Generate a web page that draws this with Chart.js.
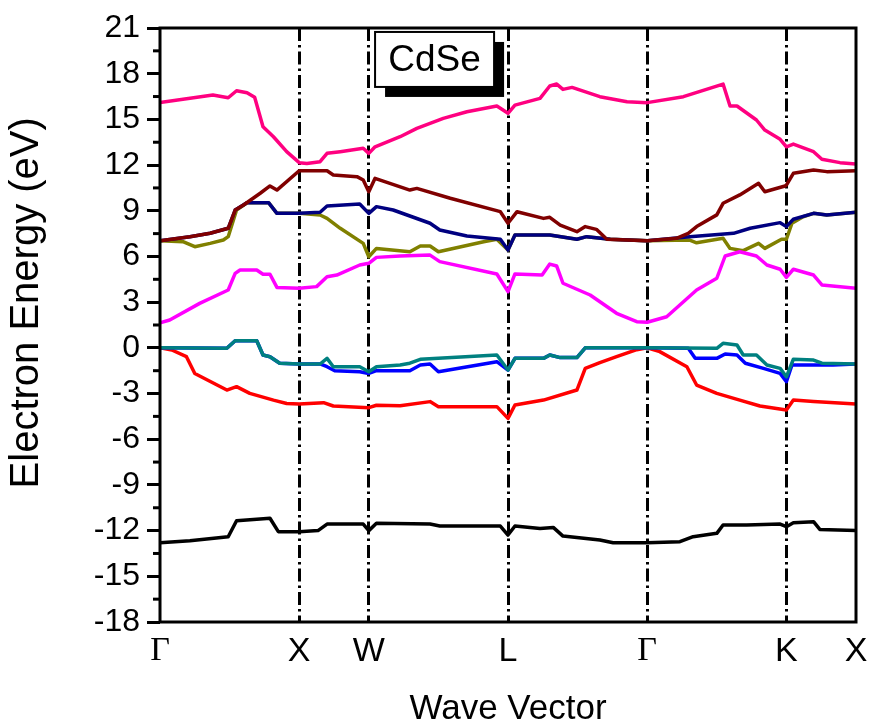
<!DOCTYPE html>
<html>
<head>
<meta charset="utf-8">
<title>CdSe band structure</title>
<script src="https://cdn.jsdelivr.net/npm/chart.js@4.4.0/dist/chart.umd.min.js"></script>
<style>
  html, body { margin: 0; padding: 0; background: #fff; }
  #wrap { width: 870px; height: 720px; }
</style>
</head>
<body>
<div id="wrap"><canvas id="bandChart"></canvas></div>
<script>
// high-symmetry points along the path (equal-ish segment units) and their labels
const kPoints = [0, 2, 3, 5, 7, 9, 10];
const kLabels = ['Γ', 'X', 'W', 'L', 'Γ', 'K', 'X'];

const energyMin = -18;
const energyMax = 21;
const energyStep = 1.5;   // major labels every 3 eV, minor ticks in between

const compound = 'CdSe';

// bands as [k, E(eV)]
const bandLow = [[0,-12.8],[0.43,-12.66],[0.98,-12.4],[1.10,-11.35],[1.39,-11.26],[1.58,-11.19],[1.70,-12.07],[2.0,-12.07],[2.27,-12.0],[2.40,-11.57],[2.92,-11.57],[3.0,-12.0],[3.11,-11.52],[3.88,-11.57],[4.02,-11.7],[4.89,-11.7],[5.0,-12.29],[5.10,-11.7],[5.46,-11.86],[5.65,-11.79],[5.79,-12.36],[6.32,-12.62],[6.51,-12.8],[7.0,-12.8],[7.47,-12.73],[7.66,-12.4],[8.0,-12.18],[8.09,-11.63],[8.43,-11.63],[8.91,-11.57],[9.0,-11.74],[9.10,-11.48],[9.39,-11.41],[9.48,-11.92],[10,-12.0]];

const bandV1 = [[0,0],[0.17,-0.14],[0.38,-0.58],[0.50,-1.68],[0.96,-2.77],[1.10,-2.55],[1.29,-2.99],[1.63,-3.43],[1.82,-3.65],[2.0,-3.69],[2.35,-3.6],[2.49,-3.82],[3.0,-3.93],[3.11,-3.77],[3.45,-3.8],[3.88,-3.53],[4.0,-3.86],[4.84,-3.86],[5.0,-4.63],[5.10,-3.75],[5.51,-3.43],[5.99,-2.77],[6.11,-1.35],[6.32,-0.97],[6.56,-0.58],[6.85,-0.12],[7.0,0],[7.18,-0.25],[7.57,-1.24],[7.71,-2.44],[8.0,-2.99],[8.33,-3.43],[8.62,-3.82],[9.0,-4.08],[9.10,-3.43],[9.39,-3.53],[10,-3.69]];

const bandV2 = [[0,0],[0.96,-0.03],[1.08,0.47],[1.39,0.47],[1.48,-0.47],[1.58,-0.58],[1.72,-1.01],[2.0,-1.06],[2.30,-1.06],[2.40,-1.24],[2.51,-1.5],[2.87,-1.57],[3.0,-1.68],[3.11,-1.5],[3.59,-1.5],[3.74,-1.13],[3.88,-1.06],[4.0,-1.57],[4.84,-0.91],[5.0,-1.46],[5.10,-0.69],[5.51,-0.69],[5.60,-0.47],[5.75,-0.64],[5.99,-0.64],[6.11,0],[7.0,0],[7.59,-0.03],[7.69,-0.69],[8.0,-0.69],[8.12,-0.4],[8.29,-0.47],[8.41,-1.01],[8.67,-1.35],[8.91,-1.68],[9.0,-2.22],[9.08,-1.13],[9.67,-1.13],[10,-1.06]];

const bandV3 = [[0,0],[0.96,-0.03],[1.08,0.47],[1.39,0.47],[1.48,-0.47],[1.58,-0.58],[1.72,-1.01],[2.0,-1.06],[2.30,-1.06],[2.40,-0.69],[2.49,-1.24],[2.87,-1.24],[3.0,-1.57],[3.11,-1.24],[3.45,-1.13],[3.59,-1.01],[3.74,-0.75],[4.84,-0.47],[5.0,-1.46],[5.10,-0.69],[5.51,-0.69],[5.60,-0.47],[5.75,-0.64],[5.99,-0.64],[6.11,0],[7.0,0],[8.0,-0.03],[8.09,0.3],[8.29,0.19],[8.38,-0.47],[8.57,-0.47],[8.72,-1.13],[8.91,-1.35],[9.0,-1.9],[9.10,-0.75],[9.39,-0.8],[9.51,-1.01],[10,-1.06]];

const bandC1 = [[0,1.65],[0.14,1.83],[0.57,2.92],[0.98,3.8],[1.08,4.89],[1.15,5.11],[1.39,5.11],[1.48,4.83],[1.58,4.83],[1.68,3.97],[2.0,3.91],[2.25,4.02],[2.40,4.67],[2.54,4.78],[2.87,5.44],[3.0,5.55],[3.11,5.94],[3.45,6.03],[3.88,6.09],[4.02,5.66],[4.84,4.85],[5.0,3.69],[5.10,4.85],[5.49,4.78],[5.60,5.5],[5.70,5.37],[5.79,4.24],[6.18,3.47],[6.56,2.27],[6.85,1.72],[7.0,1.68],[7.28,2.04],[7.71,3.8],[8.0,4.57],[8.12,6.03],[8.33,6.31],[8.57,6.03],[8.72,5.44],[8.91,5.16],[9.0,4.63],[9.10,5.16],[9.39,4.78],[9.51,4.13],[10,3.91]];

const bandC2 = [[0,7.03],[0.33,6.97],[0.50,6.64],[0.72,6.86],[0.91,7.08],[0.98,7.3],[1.10,9.05],[1.25,9.53],[1.56,9.53],[1.68,8.83],[2.0,8.83],[2.30,8.72],[2.40,8.5],[2.59,7.85],[2.92,6.86],[3.0,5.98],[3.11,6.53],[3.59,6.31],[3.74,6.69],[3.88,6.69],[4.0,6.31],[4.65,6.97],[4.84,7.13],[5.0,6.42],[5.10,7.41],[5.60,7.41],[5.99,7.13],[6.13,7.3],[6.47,7.13],[7.0,7.03],[7.61,7.08],[7.71,6.9],[8.09,7.19],[8.19,6.53],[8.38,6.38],[8.60,6.86],[8.69,6.53],[8.93,7.13],[9.0,7.13],[9.08,8.18],[9.24,8.61],[9.39,8.83],[9.58,8.72],[10,8.9]];

const bandC3 = [[0,7.03],[0.43,7.3],[0.72,7.52],[0.98,7.85],[1.08,9.05],[1.25,9.53],[1.56,9.53],[1.68,8.83],[2.0,8.83],[2.30,8.9],[2.40,9.31],[2.87,9.44],[3.0,8.83],[3.11,9.27],[3.35,9.05],[3.88,8.18],[4.02,7.74],[4.41,7.34],[4.89,7.13],[5.0,6.42],[5.10,7.41],[5.60,7.41],[5.99,7.13],[6.13,7.3],[6.47,7.13],[7.0,7.03],[7.61,7.3],[8.24,7.52],[8.48,7.85],[8.91,8.22],[9.0,7.96],[9.10,8.44],[9.39,8.83],[9.58,8.72],[10,8.9]];

const bandC4 = [[0,7.03],[0.43,7.3],[0.72,7.52],[0.98,7.85],[1.08,9.05],[1.20,9.38],[1.44,10.15],[1.58,10.63],[1.68,10.36],[2.0,11.63],[2.40,11.63],[2.49,11.35],[2.83,11.24],[2.92,11.02],[3.0,10.25],[3.09,11.13],[3.59,10.36],[3.69,10.47],[4.17,9.82],[4.89,8.94],[5.0,8.18],[5.13,8.94],[5.51,8.5],[5.60,8.57],[5.75,8.06],[5.99,7.63],[6.11,7.96],[6.27,7.78],[6.42,7.13],[7.0,7.03],[7.42,7.19],[7.59,7.52],[7.71,7.96],[8.0,8.73],[8.09,9.49],[8.33,10.04],[8.60,10.8],[8.69,10.25],[8.98,10.63],[9.0,10.69],[9.10,11.46],[9.39,11.68],[9.58,11.57],[10,11.63]];

const bandC5 = [[0,16.1],[0.76,16.6],[0.98,16.42],[1.10,16.88],[1.25,16.75],[1.36,16.45],[1.48,14.52],[1.63,13.86],[1.82,12.88],[2.0,12.16],[2.11,12.1],[2.30,12.22],[2.40,12.77],[2.59,12.88],[2.92,13.1],[3.0,12.77],[3.09,13.2],[3.45,13.86],[3.69,14.41],[4.07,15.07],[4.41,15.5],[4.84,15.88],[5.0,15.4],[5.10,15.94],[5.46,16.38],[5.60,17.19],[5.70,17.32],[5.79,16.97],[5.92,17.1],[6.32,16.49],[6.71,16.16],[7.0,16.1],[7.52,16.49],[8.09,17.32],[8.19,15.88],[8.29,15.88],[8.57,14.96],[8.69,14.3],[8.91,13.69],[9.0,13.2],[9.10,13.38],[9.39,12.88],[9.51,12.38],[9.77,12.16],[10,12.07]];

// first entry ends up on top
const bands = [bandV3, bandV2, bandV1, bandLow, bandC1, bandC4, bandC3, bandC2, bandC5];
const bandColors = ['#008080', '#0000ff', '#ff0000', '#000000', '#ff00ff', '#800000', '#000080', '#808000', '#ff0080'];

const sansFont = 'Arial, "Liberation Sans", sans-serif';
const serifFont = '"Times New Roman", "Liberation Serif", serif';

Chart.defaults.font.family = sansFont;
Chart.defaults.color = '#000';

// frame, minor ticks and the compound label box
const framePlugin = {
    id: 'frame',
    afterDatasetsDraw(chart) {
        const { ctx, chartArea: a, scales: { x, y } } = chart;
        ctx.save();
        ctx.strokeStyle = '#000';
        ctx.lineWidth = 3;
        ctx.strokeRect(a.left, a.top, a.right - a.left, a.bottom - a.top);

        y.ticks.forEach(t => {
            if (t.value % 3 !== 0) {
                const py = y.getPixelForValue(t.value);
                ctx.beginPath();
                ctx.moveTo(a.left - 7, py);
                ctx.lineTo(a.left, py);
                ctx.stroke();
            }
        });

        // label box with drop shadow
        const bx0 = x.getPixelForValue(3.09), bx1 = x.getPixelForValue(4.80);
        const by0 = y.getPixelForValue(20.74), by1 = y.getPixelForValue(17.13);
        ctx.fillStyle = '#000';
        ctx.fillRect(bx0 + 10, by0 + 10, bx1 - bx0, by1 - by0);
        ctx.fillStyle = '#fff';
        ctx.fillRect(bx0, by0, bx1 - bx0, by1 - by0);
        ctx.lineWidth = 2;
        ctx.strokeRect(bx0, by0, bx1 - bx0, by1 - by0);
        ctx.fillStyle = '#000';
        ctx.font = '37px ' + sansFont;
        ctx.textAlign = 'center';
        ctx.textBaseline = 'middle';
        ctx.fillText(compound, (bx0 + bx1) / 2, (by0 + by1) / 2 + 1);
        ctx.restore();
    }
};

const ctx = document.getElementById('bandChart').getContext('2d');
new Chart(ctx, {
    type: 'line',
    data: {
        datasets: bands.map((b, i) => ({
            data: b.map(p => ({ x: p[0], y: p[1] })),
            borderColor: bandColors[i],
            borderWidth: 3.5,
            pointRadius: 0,
            tension: 0,
            fill: false,
            borderJoinStyle: 'round',
            borderCapStyle: 'round'
        }))
    },
    options: {
        responsive: true,
        maintainAspectRatio: false,
        animation: false,
        layout: { padding: { top: 28, right: 14, bottom: 0, left: 0 } },
        plugins: {
            legend: { display: false },
            tooltip: { enabled: false }
        },
        scales: {
            x: {
                type: 'linear',
                min: 0,
                max: 10,
                afterBuildTicks: axis => { axis.ticks = kPoints.map(v => ({ value: v })); },
                ticks: {
                    autoSkip: false,
                    maxRotation: 0,
                    padding: 9,
                    color: '#000',
                    callback: (v, i) => kLabels[i],
                    font: c => ({ family: kLabels[c.index] === 'Γ' ? serifFont : sansFont, size: 34 })
                },
                grid: {
                    drawTicks: false,
                    lineWidth: 3,
                    color: c => (c.tick && (c.tick.value === 0 || c.tick.value === 10)) ? 'rgba(0,0,0,0)' : '#000'
                },
                border: { display: false, dash: [13, 4, 2.5, 4] },
                title: {
                    display: true,
                    text: 'Wave Vector',
                    color: '#000',
                    font: { size: 35, lineHeight: 0.6 },
                    padding: { top: 0, bottom: 0 }
                },
                afterFit: s => {
                    s.height = 98;
                    s.paddingLeft = 0;
                    s.paddingRight = 0;
                }
            },
            y: {
                min: energyMin,
                max: energyMax,
                ticks: {
                    stepSize: energyStep,
                    autoSkip: false,
                    padding: 7,
                    color: '#000',
                    font: { size: 32 },
                    callback: v => (v % 3 === 0 ? v : '')
                },
                grid: {
                    drawOnChartArea: false,
                    drawTicks: true,
                    tickLength: 13,
                    tickWidth: 3,
                    tickColor: c => (c.tick && c.tick.value % 3 === 0) ? '#000' : 'rgba(0,0,0,0)'
                },
                border: { display: false },
                title: {
                    display: true,
                    text: '    Electron Energy (eV)',
                    color: '#000',
                    font: { size: 40 },
                    padding: { top: 3, bottom: 0 }
                },
                afterFit: s => {
                    s.width = 160;
                    s.paddingTop = 0;
                    s.paddingBottom = 0;
                }
            }
        }
    },
    plugins: [framePlugin]
});
</script>
</body>
</html>
